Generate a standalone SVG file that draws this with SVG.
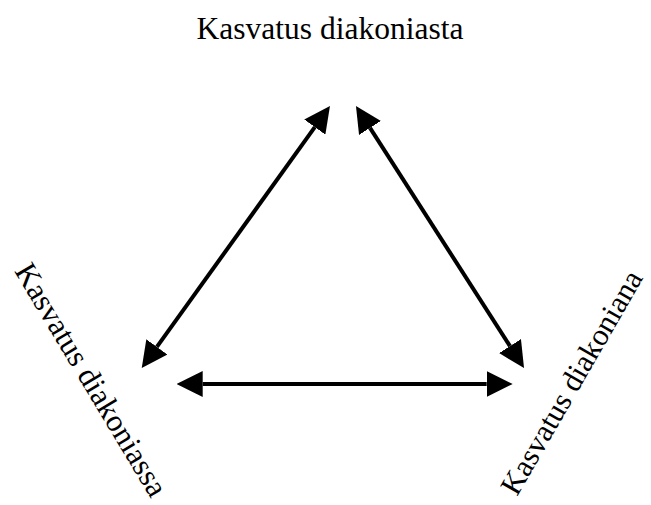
<svg xmlns="http://www.w3.org/2000/svg" width="651" height="505" viewBox="0 0 651 505">
<style>
.lbl{font-family:"Liberation Serif","Times New Roman",serif;font-size:31.5px;fill:#000}
.rot{font-size:31px}
.rot2{font-size:30.5px}
.conn{stroke:#000;stroke-width:4;fill:none;marker-start:url(#ah);marker-end:url(#ah)}
</style>
<defs>
<marker id="ah" markerUnits="userSpaceOnUse" markerWidth="26" markerHeight="26" viewBox="0 -13 26 26" refX="0" refY="0" orient="auto-start-reverse">
<path d="M0,-13 L26,0 L0,13 Z" fill="#000"/>
</marker>
</defs>
<rect width="651" height="505" fill="#fff"/>
<g id="node-top"><text class="lbl" x="330" y="39" text-anchor="middle">Kasvatus diakoniasta</text></g>
<g id="node-left"><text class="lbl rot" transform="translate(14,271) rotate(59)">Kasvatus diakoniassa</text></g>
<g id="node-right"><text class="lbl rot2" transform="translate(517,497) rotate(-60)">Kasvatus diakoniana</text></g>
<g id="connectors">
<line class="conn" x1="156.9" y1="346.9" x2="314.8" y2="127.1"/>
<line class="conn" x1="370" y1="127.9" x2="510" y2="346.1"/>
<line class="conn" x1="202.7" y1="384" x2="486.7" y2="384"/>
</g>
</svg>
